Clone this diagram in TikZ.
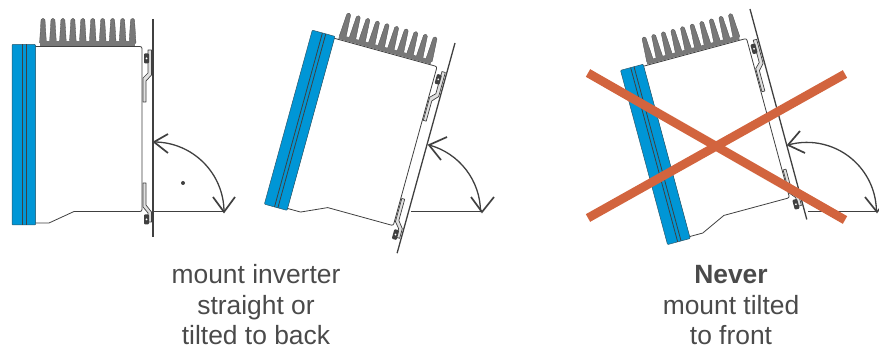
\documentclass[tikz,border=0pt]{standalone}
\usepackage{fontspec}
\setmainfont{Liberation Sans}
\definecolor{ink}{HTML}{404040}
\definecolor{textink}{HTML}{4A4A4A}
\definecolor{finfill}{HTML}{787878}
\definecolor{panel}{HTML}{0096D6}
\definecolor{crossred}{HTML}{D2643E}
\tikzset{
  wallline/.style={draw=ink,line width=1.3pt},
  bodyline/.style={draw=ink,line width=.8pt,fill=white,line join=round},
  bluepanel/.style={fill=panel,draw=ink!70!panel,line width=.5pt,rounded corners=.8pt},
  panelline/.style={draw=ink,line width=.8pt},
  bracketline/.style={draw=ink,line width=.7pt,fill=black!12,line join=round},
  boltshape/.style={fill=ink,rounded corners=1pt},
  finshape/.style={fill=finfill,draw=ink!80!finfill,line width=.3pt,rounded corners=1.4pt},
  arcline/.style={draw=ink,line width=1.3pt},
  baseline/.style={draw=ink,line width=1pt},
  barbline/.style={draw=ink,line width=1.7pt,line join=miter},
  crossline/.style={draw=crossred,line width=8.8pt},
  caption/.style={text=textink,font=\fontsize{26.4}{31.3}\selectfont,align=center,inner sep=0pt,anchor=base}
}
% local frame: x,y in reference pixels of the upright inverter, origin at (153,19)
\newcommand{\inverterunit}{%
  \begin{scope}[shift={(-153,-19)}]
    \foreach \k in {0,...,9} {
      \path[finshape] ({43+\k*9.95-3.5},44) -- ({43+\k*9.95-1.9},18.5) -- ({43+\k*9.95+1.9},18.5) -- ({43+\k*9.95+3.5},44) -- cycle;
    }
    \fill[finfill] (39.5,41.5) rectangle (135,46);
    \draw[bodyline] (35,46.5) -- (140,46.5) to[out=0,in=90] (142,48.5) -- (142,209.5) to[out=-90,in=0] (140,211.5) -- (74,211.5) -- (49,223) -- (35,223) -- cycle;
    \draw[bracketline] (148,50) -- (151.5,50) -- (151.5,75) -- (146,81) -- (146,102) -- (143,102) -- (143,78) -- (148,73) -- cycle;
    \draw[bracketline] (143,183) -- (146,183) -- (146,205) -- (151.5,212) -- (151.5,222) -- (148,222) -- (148,213) -- (143,207) -- cycle;
    \fill[boltshape] (144,53.5) rectangle (149,63.5);
    \fill[white] (146.5,58.5) circle (1pt);
    \fill[boltshape] (144,214.5) rectangle (149,224.5);
    \fill[white] (146.5,219.5) circle (1pt);
    \path[bluepanel] (12,44.5) rectangle (35.5,225);
    \draw[panelline] (22.5,44.5) -- (22.5,225);
    \draw[panelline] (26,44.5) -- (26,225);
    \draw[wallline] (153,19) -- (153,237);
  \end{scope}%
}
\begin{document}
\begin{tikzpicture}[x=1pt,y=-1pt]
  \useasboundingbox (0,0) rectangle (879,347);
  \clip (0,0) rectangle (879,347);

  % straight inverter
  \begin{scope}[shift={(153,19)}]
    \inverterunit
  \end{scope}
  \coordinate (baseA) at (153,212);
  \coordinate (tipA) at (224,212);
  \coordinate (topA) at (154,142);
  \draw[baseline] (baseA) -- (tipA);
  \draw[arcline] (topA) arc[start angle=90,end angle=0,radius=70pt];
  \draw[barbline] (168,134) -- (topA) -- (168,153);
  \draw[barbline] (213,197) -- (tipA) -- (235,197);
  \fill[ink] (183,183) circle (2pt);

  % tilted to back
  \begin{scope}[shift={(455,43)},rotate=-15.4]
    \inverterunit
  \end{scope}
  \coordinate (baseB) at (411,212);
  \coordinate (tipB) at (482,212);
  \coordinate (topB) at (429,145);
  \draw[baseline] (baseB) -- (tipB);
  \draw[arcline] (topB) arc[start angle=75,end angle=0,radius=69.5pt];
  \draw[barbline] (447,137) -- (topB) -- (441,160);
  \draw[barbline] (471,197) -- (tipB) -- (494,197);

  % tilted to front
  \begin{scope}[shift={(750,9)},rotate=15.1]
    \inverterunit
  \end{scope}
  \coordinate (baseC) at (808,212);
  \coordinate (tipC) at (877,212);
  \coordinate (topC) at (788,145);
  \draw[baseline] (baseC) -- (tipC);
  \draw[arcline] (topC) arc[start angle=105.8,end angle=0,radius=69.5pt];
  \draw[barbline] (800,131) -- (topC) -- (805,153);
  \draw[barbline] (865,197) -- (tipC) -- (889,197);

  % cross
  \coordinate (xa) at (588,73);
  \coordinate (xb) at (845,220);
  \coordinate (xc) at (588,218);
  \coordinate (xd) at (845,74);
  \draw[crossline] (xa) -- (xb);
  \draw[crossline] (xc) -- (xd);

  % captions
  \node[caption] (capLa) at (256,283.5) {mount inverter};
  \node[caption] (capLb) at (256,314.5) {straight or};
  \node[caption] (capLc) at (256,344.5) {tilted to back};
  \node[caption] (capRa) at (731,283.5) {\textbf{Never}};
  \node[caption] (capRb) at (731,314.5) {mount tilted};
  \node[caption] (capRc) at (731,344.5) {to front};
\end{tikzpicture}
\end{document}
